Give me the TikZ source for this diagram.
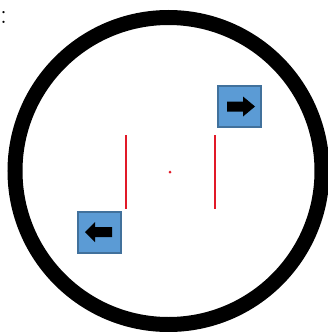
\documentclass[tikz,border=0pt]{standalone}
\usepackage{tikz}
\usetikzlibrary{positioning,calc}
\definecolor{ringblack}{RGB}{0,0,0}
\definecolor{markred}{RGB}{225,25,40}
\definecolor{keyblue}{RGB}{91,155,213}
\definecolor{keyedge}{RGB}{65,113,156}

\begin{document}
\begin{tikzpicture}[x=1pt, y=-1pt,
      keybox/.style={draw=keyedge, fill=keyblue, line width=2pt, minimum width=43pt,
                     minimum height=41pt, inner sep=0pt},
      hairline/.style={draw=markred, line width=2.8pt}]
    \useasboundingbox (0,0) rectangle (328,332);
    % lens ring
    \draw[ringblack, line width=15pt] (168.5,171) circle[radius=153.5pt];
    \node[anchor=west, inner sep=0pt, font=\fontsize{28}{28}\selectfont] (colon) at (0,17) {:};
    % hair lines and centre point
    \coordinate (lt) at (126,135);
    \coordinate (lb) at (126,209);
    \coordinate (rt) at (215,135);
    \coordinate (rb) at (215,209);
    \draw[hairline] (lt) -- (lb);
    \draw[hairline] (rt) -- (rb);
    \fill[markred] (170,172) circle[radius=1.5pt];
    % arrow keys
    \node[keybox] (rkey) at (239.5,106.5) {};
    \node[keybox] (lkey) at (99.5,232) {};
    \fill[black, shift={(rkey.center)}] (-12.5,-5) -- (3.5,-5) -- (3.5,-10) -- (15.5,0)
        -- (3.5,10) -- (3.5,5) -- (-12.5,5) -- cycle;
    \fill[black, shift={(lkey.center)}] (12.5,-5) -- (-4.5,-5) -- (-4.5,-10) -- (-14.5,0)
        -- (-4.5,10) -- (-4.5,5) -- (12.5,5) -- cycle;
  \end{tikzpicture}
\end{document}
